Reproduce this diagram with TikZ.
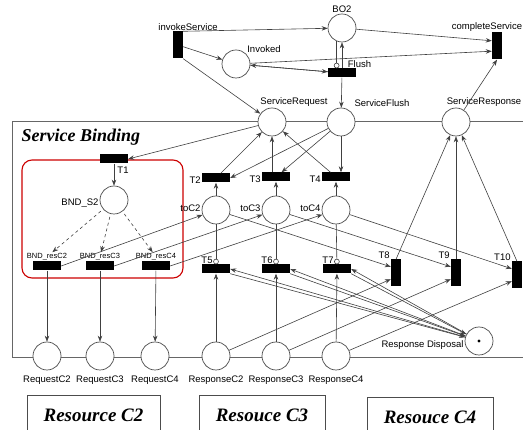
\documentclass[tikz,border=0pt]{standalone}
\usepackage{fontspec}
\setmainfont{Liberation Serif}
\setsansfont{Liberation Sans}
\usetikzlibrary{shapes,arrows.meta,positioning,backgrounds}

\begin{document}
\begin{tikzpicture}[
    x=1pt, y=-1pt,
    place/.style={circle,draw=black!70,fill=white,line width=0.7pt,minimum size=28pt,inner sep=0pt},
    hbar/.style={rectangle,fill=black,minimum width=28pt,minimum height=9pt,inner sep=0pt},
    vbar/.style={rectangle,fill=black,minimum width=10pt,minimum height=27pt,inner sep=0pt},
    lbl/.style={font=\sffamily\fontsize{9.5}{10}\selectfont,inner sep=1pt},
    small lbl/.style={font=\sffamily\fontsize{7.5}{8}\selectfont,inner sep=1pt},
    heading/.style={font=\rmfamily\bfseries\itshape\fontsize{18}{20}\selectfont},
    resbox/.style={rectangle,draw=black!70,line width=0.7pt,font=\rmfamily\bfseries\itshape\fontsize{19}{22}\selectfont,minimum height=40pt},
    frame/.style={draw=black!60,line width=0.7pt},
    bindbox/.style={draw=red!80!black,line width=1.1pt,rounded corners=10pt},
    arrow/.style={-{Stealth[length=6pt,width=4.5pt]},line width=0.6pt,draw=black!75},
    inhibitor/.style={-{Circle[open,length=5.5pt,width=5.5pt]},line width=0.6pt,draw=black!75},
    bind arrow/.style={arrow,dashed,shorten <=3pt}
]
\useasboundingbox (0,0) rectangle (523,430);

% Service invocation
\node[vbar,label={[lbl,xshift=10pt]above:invokeService}] (invoke) at (178,45) {};
\node[place,label={[lbl]45:Invoked}] (invoked) at (236,64) {};
\node[place,label={[lbl]above:BO2}] (bo2) at (342,28) {};
\node[hbar,label={[lbl]above right:Flush}] (flush) at (342,73) {};
\node[vbar,label={[lbl,xshift=-10pt]above:completeService}] (complete) at (497,46) {};

% Service interface
\node[place,label={[lbl,xshift=22pt]above:ServiceRequest}] (sreq) at (272,122) {};
\node[place,label={[lbl,xshift=41pt]above:ServiceFlush}] (sflush) at (341,122) {};
\node[place,label={[lbl,xshift=28pt]above:ServiceResponse}] (sresp) at (456,122) {};

% Service binding
\node[heading,anchor=west] (sbtitle) at (18,137) {Service Binding};
\node[hbar,label={[lbl,xshift=9pt,label distance=2pt]below:T1}] (t1) at (114,159) {};
\node[place,label={[lbl,yshift=-3pt]left:BND\_S2}] (bnds2) at (114,200) {};
\node[hbar] (bndc2) at (47,266) {};
\node[hbar] (bndc3) at (100,266) {};
\node[hbar] (bndc4) at (156,266) {};
\node[small lbl,above=0pt of bndc2] (bndc2l) {BND\_resC2};
\node[small lbl,above=0pt of bndc3] (bndc3l) {BND\_resC3};
\node[small lbl,above=0pt of bndc4] (bndc4l) {BND\_resC4};

% Requests to the resources
\node[place,label={[lbl,yshift=2pt]left:toC2}] (toc2) at (216,210) {};
\node[place,label={[lbl,yshift=2pt]left:toC3}] (toc3) at (276,210) {};
\node[place,label={[lbl,yshift=2pt]left:toC4}] (toc4) at (336,210) {};
\node[hbar,label={[lbl,yshift=-2pt]left:T2}] (t2) at (216,178) {};
\node[hbar,label={[lbl,yshift=-2pt]left:T3}] (t3) at (276,177) {};
\node[hbar,label={[lbl,yshift=-2pt]left:T4}] (t4) at (336,177) {};
\node[hbar,label={[lbl,xshift=-9pt]above:T5}] (t5) at (216,269) {};
\node[hbar,label={[lbl,xshift=-9pt]above:T6}] (t6) at (276,269) {};
\node[hbar,label={[lbl,xshift=-9pt]above:T7}] (t7) at (337,269) {};
\node[vbar,label={[lbl,anchor=south east]north west:T8}] (t8) at (396,273) {};
\node[vbar,label={[lbl,anchor=south east]north west:T9}] (t9) at (456,273) {};
\node[vbar,label={[lbl,anchor=south east]north west:T10}] (t10) at (517,275) {};

% Resources
\node[place,label={[lbl,label distance=4pt]below:RequestC2}] (reqc2) at (47,356) {};
\node[place,label={[lbl,label distance=4pt]below:RequestC3}] (reqc3) at (100,356) {};
\node[place,label={[lbl,label distance=4pt]below:RequestC4}] (reqc4) at (155,356) {};
\node[place,label={[lbl,label distance=4pt]below:ResponseC2}] (respc2) at (216,356) {};
\node[place,label={[lbl,label distance=4pt]below:ResponseC3}] (respc3) at (276,356) {};
\node[place,label={[lbl,label distance=4pt]below:ResponseC4}] (respc4) at (336,356) {};
\node[place,label={[lbl,yshift=-4pt]left:Response Disposal}] (rdisp) at (479,341) {};
\fill (rdisp) circle (1.6pt);

\node[resbox,minimum width=133pt] (resc2) at (93.5,415) {Resource C2};
\node[resbox,minimum width=126pt] (resc3) at (262,415) {Resouce C3};
\node[resbox,minimum width=126pt] (resc4) at (430,417) {Resouce C4};

% Invocation arcs
\draw[arrow] (invoke) -- (invoked);
\draw[arrow] (invoke.north east) -- (bo2);
\draw[arrow] (invoke.south east) -- (sreq);
\draw[arrow] (invoked) -- (complete.225);
\draw[arrow] (bo2) -- (complete.135);
\draw[arrow] (invoked) -- (flush);
\draw[arrow] (flush) -- (invoked);
\draw[inhibitor] (bo2.248) -- (bo2.248 |- flush.north);
\draw[arrow] (flush.north) -- (bo2);
\draw[arrow] (flush) -- (sflush);
\draw[arrow] (sresp) -- (complete.south);

% Binding arcs
\draw[arrow] (sreq) -- (t1.east);
\draw[arrow] (t1) -- (bnds2);
\draw[bind arrow] (bnds2) -- (bndc2l);
\draw[bind arrow] (bnds2) -- (bndc3l);
\draw[bind arrow] (bnds2) -- (bndc4l);
\draw[arrow] (bndc2) -- (reqc2);
\draw[arrow] (bndc3) -- (reqc3);
\draw[arrow] (bndc4) -- (reqc4);
\draw[arrow] (bndc2.east) -- (toc2);
\draw[arrow] (bndc3.east) -- (toc3);
\draw[arrow] (bndc4.east) -- (toc4);

% Request and flush arcs
\draw[arrow] (toc2) -- (t2);
\draw[arrow] (toc3) -- (t3);
\draw[arrow] (toc4) -- (t4);
\draw[arrow] (t2) -- (sreq);
\draw[arrow] (sreq |- t3.north) -- (sreq);
\draw[arrow] (t4) -- (sreq);
\draw[arrow] (sflush) -- (t2.east);
\draw[arrow] (sflush) -- (t3);
\draw[arrow] (sflush) -- (sflush |- t4.north);

% Response arcs
\draw[arrow] (respc2) -- (t5);
\draw[arrow] (respc3) -- (t6);
\draw[arrow] (respc4) -- (t7);
\draw[inhibitor] (toc2) -- (t5);
\draw[inhibitor] (toc3) -- (t6);
\draw[inhibitor] (toc4) -- (t7);
\draw[arrow] (rdisp) -- (t5.east);
\draw[arrow] (rdisp) -- (t6.east);
\draw[arrow] (rdisp) -- (t7.east);
\draw[arrow] (t5.south east) -- (rdisp);
\draw[arrow] (t6.south east) -- (rdisp);
\draw[arrow] (t7.south east) -- (rdisp);
\draw[arrow] (toc2) -- (t8.130);
\draw[arrow] (toc3) -- (t9.130);
\draw[arrow] (toc4) -- (t10.130);
\draw[arrow] (respc2) -- (t8.230);
\draw[arrow] (respc3) -- (t9.230);
\draw[arrow] (respc4) -- (t10.230);
\draw[arrow] (t8.north) -- (sresp);
\draw[arrow] (t9) -- (sresp);
\draw[arrow] (t10.north) -- (sresp);

% Background boxes
\begin{scope}[on background layer]
\draw[frame] (12,121) rectangle (560,357);
\draw[bindbox] (22,160) rectangle (183,278);
\end{scope}

\end{tikzpicture}
\end{document}
